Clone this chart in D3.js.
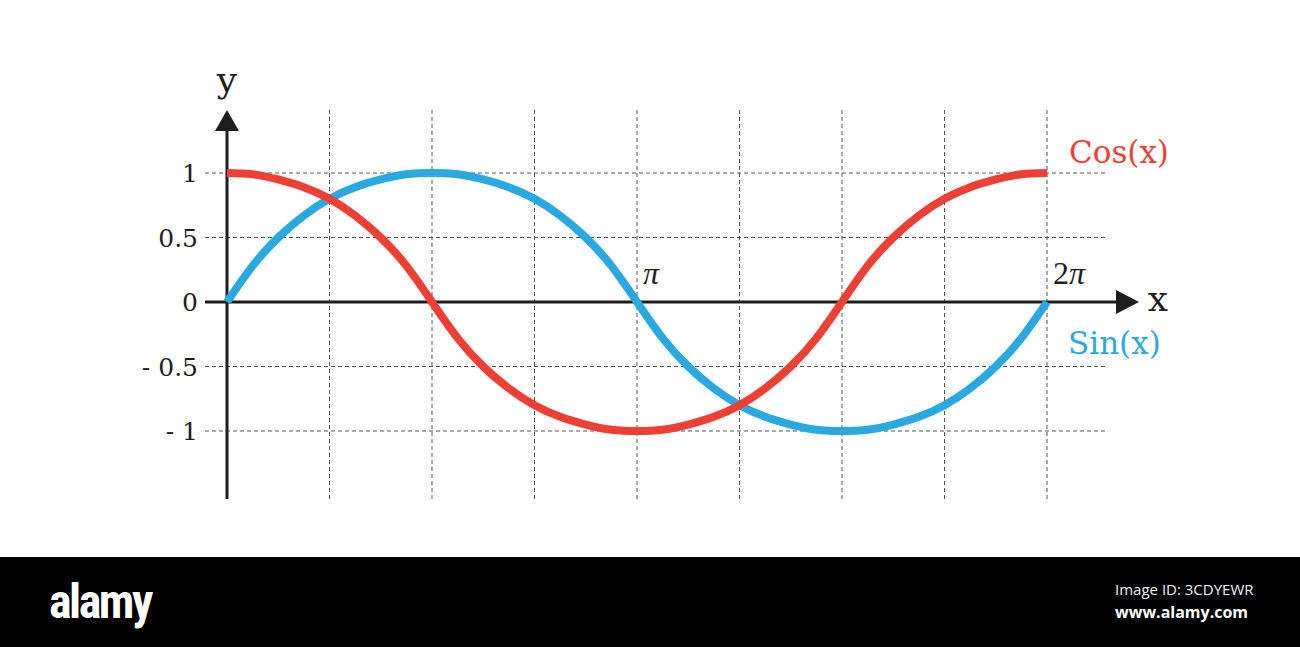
<!DOCTYPE html>
<html><head><meta charset="utf-8">
<script src="https://cdn.jsdelivr.net/npm/d3@7"></script>
<style>html,body{margin:0;padding:0;background:#fff;}svg{display:block;}</style>
</head><body>
<script>
// x positions in units of pi (0 .. 2pi, steps of pi/16)
const xPi = [0,0.0625,0.125,0.1875,0.25,0.3125,0.375,0.4375,0.5,0.5625,0.625,0.6875,0.75,0.8125,0.875,0.9375,
  1,1.0625,1.125,1.1875,1.25,1.3125,1.375,1.4375,1.5,1.5625,1.625,1.6875,1.75,1.8125,1.875,1.9375,2];
// values (the drawn curves are fuller than a true sine)
const sinValues = [0,0.28,0.50,0.67,0.80,0.89,0.95,0.99,1,0.99,0.95,0.89,0.80,0.67,0.50,0.28,
  0,-0.28,-0.50,-0.67,-0.80,-0.89,-0.95,-0.99,-1,-0.99,-0.95,-0.89,-0.80,-0.67,-0.50,-0.28,0];
const cosValues = [1,0.99,0.95,0.89,0.80,0.67,0.50,0.28,0,-0.28,-0.50,-0.67,-0.80,-0.89,-0.95,-0.99,
  -1,-0.99,-0.95,-0.89,-0.80,-0.67,-0.50,-0.28,0,0.28,0.50,0.67,0.80,0.89,0.95,0.99,1];
const yTickValues = [1,0.5,0,-0.5,-1];
const yTickLabels = ["1","0.5","0","- 0.5","- 1"];
const xGridValues = [0.25,0.5,0.75,1,1.25,1.5,1.75,2];
const xTickValues = [1,2];
const xTickPrefix = ["","2"];
const seriesNames = ["Sin(x)","Cos(x)"];

const W=1300,H=647;
const svg=d3.select("body").append("svg").attr("width",W).attr("height",H);
svg.append("rect").attr("width",W).attr("height",H).attr("fill","#fff");

const x=d3.scaleLinear().domain([0,2]).range([227,1047]);
const y=d3.scaleLinear().domain([-1,1]).range([431,173]);
const serif="'DejaVu Serif','Liberation Serif',serif";
const lserif="'Liberation Serif','DejaVu Serif',serif";
const RED="#ec3f36", BLUE="#29a9e0", INK="#1e1e1e";

// grid
const g=svg.append("g").attr("stroke","#555").attr("stroke-width",1).attr("stroke-dasharray","4,3");
g.selectAll("line.v").data(xGridValues).join("line").attr("class","v")
  .attr("x1",d=>x(d)).attr("x2",d=>x(d)).attr("y1",110).attr("y2",500);
g.selectAll("line.h").data(yTickValues.filter(d=>d!==0)).join("line").attr("class","h")
  .attr("x1",205).attr("x2",1105).attr("y1",d=>y(d)).attr("y2",d=>y(d));

// axes
svg.append("line").attr("x1",227).attr("x2",227).attr("y1",128).attr("y2",499).attr("stroke",INK).attr("stroke-width",3);
svg.append("path").attr("d","M227,110 L239,131 L215,131 Z").attr("fill",INK);
svg.append("line").attr("x1",205).attr("x2",1120).attr("y1",y(0)).attr("y2",y(0)).attr("stroke",INK).attr("stroke-width",3);
svg.append("path").attr("d",`M1139,${y(0)} L1116,${y(0)-12} L1116,${y(0)+12} Z`).attr("fill",INK);

// tick labels
svg.selectAll("text.yt").data(yTickValues).join("text").attr("class","yt")
  .attr("x",198).attr("y",d=>y(d)+9).attr("text-anchor","end")
  .attr("font-family",serif).attr("font-size",25).attr("fill",INK)
  .text((d,i)=>yTickLabels[i]);
const xt=svg.selectAll("text.xt").data(xTickValues).join("text").attr("class","xt")
  .attr("x",d=>x(d)+6).attr("y",y(0)-18)
  .attr("font-family",lserif).attr("font-size",32).attr("fill",INK);
xt.append("tspan").text((d,i)=>xTickPrefix[i]);
xt.append("tspan").attr("font-style","italic").text("\u03c0");
svg.append("text").attr("x",227).attr("y",92).attr("text-anchor","middle")
  .attr("font-family",serif).attr("font-size",36).attr("fill",INK).text("y");
svg.append("text").attr("x",1158).attr("y",311).attr("text-anchor","middle")
  .attr("font-family",serif).attr("font-size",36).attr("fill",INK).text("x");

// curves
const line=d3.line().x(d=>x(d[0])).y(d=>y(d[1])).curve(d3.curveNatural);
svg.append("path").datum(xPi.map((v,i)=>[v,sinValues[i]])).attr("d",line)
  .attr("fill","none").attr("stroke",BLUE).attr("stroke-width",8);
svg.append("path").datum(xPi.map((v,i)=>[v,cosValues[i]])).attr("d",line)
  .attr("fill","none").attr("stroke",RED).attr("stroke-width",8);

svg.append("text").attr("x",1069).attr("y",163).attr("font-family",serif).attr("font-size",31)
  .attr("fill",RED).text(seriesNames[1]);
svg.append("text").attr("x",1068).attr("y",354).attr("font-family",serif).attr("font-size",31)
  .attr("fill",BLUE).text(seriesNames[0]);

// footer band
svg.append("rect").attr("x",0).attr("y",557).attr("width",W).attr("height",H-557).attr("fill","#000");
svg.append("text").attr("x",49).attr("y",618).attr("font-family","'Liberation Sans Narrow','Roboto Condensed','Liberation Sans',sans-serif")
  .attr("font-weight","bold").attr("font-size",48).attr("letter-spacing",-2.5).attr("fill","#fff").text("alamy");
svg.append("text").attr("x",1115).attr("y",595).attr("font-family","'Open Sans','DejaVu Sans',sans-serif")
  .attr("font-size",15).attr("fill","#eee").text("Image ID: 3CDYEWR");
svg.append("text").attr("x",1115).attr("y",618).attr("font-family","'Open Sans','DejaVu Sans',sans-serif")
  .attr("font-weight","bold").attr("font-size",16).attr("fill","#fff").text("www.alamy.com");
</script>
</body></html>
